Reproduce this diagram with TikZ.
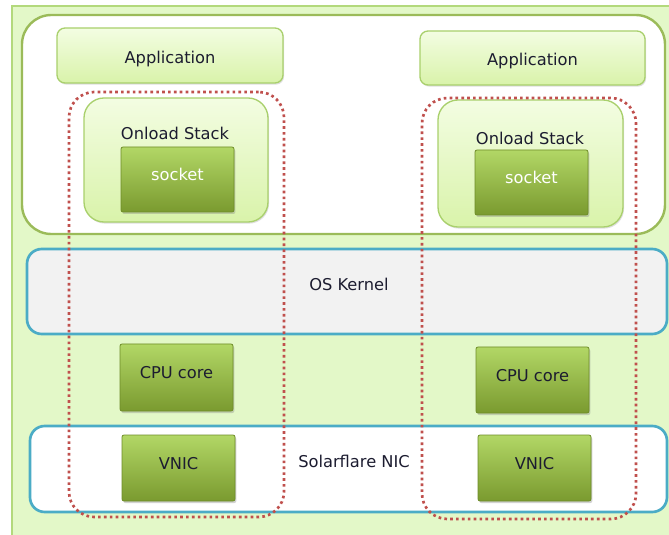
\documentclass[tikz,border=0pt]{standalone}
\usepackage{fontspec}
\setmainfont{DejaVu Sans}
\usetikzlibrary{shadows}
\definecolor{bggreen}{HTML}{E3F8C8}
\definecolor{bgline}{HTML}{B3D97C}
\definecolor{olive}{HTML}{9BBB59}
\definecolor{lighttop}{HTML}{F3FDE2}
\definecolor{lightbot}{HTML}{D9F3AA}
\definecolor{lightline}{HTML}{A9D06C}
\definecolor{darktop}{HTML}{B2D766}
\definecolor{darkbot}{HTML}{7A9A2F}
\definecolor{darkline}{HTML}{6E8C28}
\definecolor{nicblue}{HTML}{4BACC6}
\definecolor{kernelgray}{HTML}{F2F2F2}
\definecolor{dotred}{HTML}{C0504D}
\definecolor{txt}{HTML}{1C1C30}
\def\u{0.75pt}
\tikzset{
  base/.style={inner sep=0pt, outer sep=0pt, text=txt},
  txtnode/.style={base},
  container/.style={base, draw=olive, line width=1.8pt, fill=white, rounded corners=22pt},
  lightbox/.style={base, draw=lightline, line width=1pt, top color=lighttop, bottom color=lightbot, rounded corners=6pt,
     drop shadow={shadow xshift=0.8pt, shadow yshift=-1.2pt, opacity=0.25}},
  stackbox/.style={lightbox, rounded corners=15pt},
  darkbox/.style={base, draw=darkline, line width=0.6pt, top color=darktop, bottom color=darkbot, rounded corners=1.5pt,
     drop shadow={shadow xshift=1pt, shadow yshift=-1.5pt, opacity=0.35}},
  layer/.style={base, draw=nicblue, line width=2pt, rounded corners=11pt},
  group/.style={base, draw=dotred, line width=2pt, dash pattern=on 2pt off 2.4pt, rounded corners=19pt},
  inner/.style={label={[txtnode, yshift=3.5pt]center:#1}},
  innerw/.style={label={[txtnode, text=white, yshift=3.5pt]center:#1}},
  innerlow/.style={label={[txtnode, yshift=-2.6pt]center:#1}}
}
\begin{document}
\begin{tikzpicture}[x=0.75pt,y=-0.75pt, font=\fontsize{12.2}{14}\selectfont]
\useasboundingbox (0,0) rectangle (669,535);
% background
\node[base, draw=bgline, line width=1pt, fill=bggreen, minimum width=700*\u, minimum height=560*\u] (bg) at (362,286) {};
% upper container
\node[container, minimum width=643*\u, minimum height=219*\u] (user) at (343.5,124.5) {};
% applications
\node[lightbox, minimum width=226*\u, minimum height=55*\u, innerlow=Application] (appL) at (170,55.5) {};
\node[lightbox, minimum width=225*\u, minimum height=54*\u, innerlow=Application] (appR) at (532.5,58) {};
% onload stacks
\node[stackbox, minimum width=184*\u, minimum height=124*\u] (stackL) at (176,160) {};
\node[stackbox, minimum width=185*\u, minimum height=127*\u] (stackR) at (530.5,163.5) {};
\node[txtnode] (stackLt) at (175,133) {Onload Stack};
\node[txtnode] (stackRt) at (530,138) {Onload Stack};
% sockets
\node[darkbox, minimum width=113*\u, minimum height=65*\u, innerw=socket] (sockL) at (177.5,179.5) {};
\node[darkbox, minimum width=113*\u, minimum height=65*\u, innerw=socket] (sockR) at (531.5,182.5) {};
% OS kernel
\node[layer, fill=kernelgray, minimum width=640*\u, minimum height=85*\u] (kernel) at (347,291.5) {};
\node[txtnode] (kernelt) at (349,284) {OS Kernel};
% NIC
\node[layer, fill=white, minimum width=637*\u, minimum height=86*\u] (nic) at (348.5,469) {};
\node[txtnode] (nict) at (354,461) {Solarflare NIC};
% CPU cores
\node[darkbox, minimum width=113*\u, minimum height=67*\u, inner=CPU core] (cpuL) at (176.5,377.5) {};
\node[darkbox, minimum width=113*\u, minimum height=66*\u, inner=CPU core] (cpuR) at (532.5,380) {};
% VNICs
\node[darkbox, minimum width=113*\u, minimum height=66*\u, inner=VNIC] (vnicL) at (178.5,468) {};
\node[darkbox, minimum width=113*\u, minimum height=66*\u, inner=VNIC] (vnicR) at (534.5,468) {};
% dotted groups
\node[group, minimum width=215*\u, minimum height=425*\u] (grpL) at (176.5,304.5) {};
\node[group, minimum width=214*\u, minimum height=421*\u] (grpR) at (529,308.5) {};
\end{tikzpicture}
\end{document}
